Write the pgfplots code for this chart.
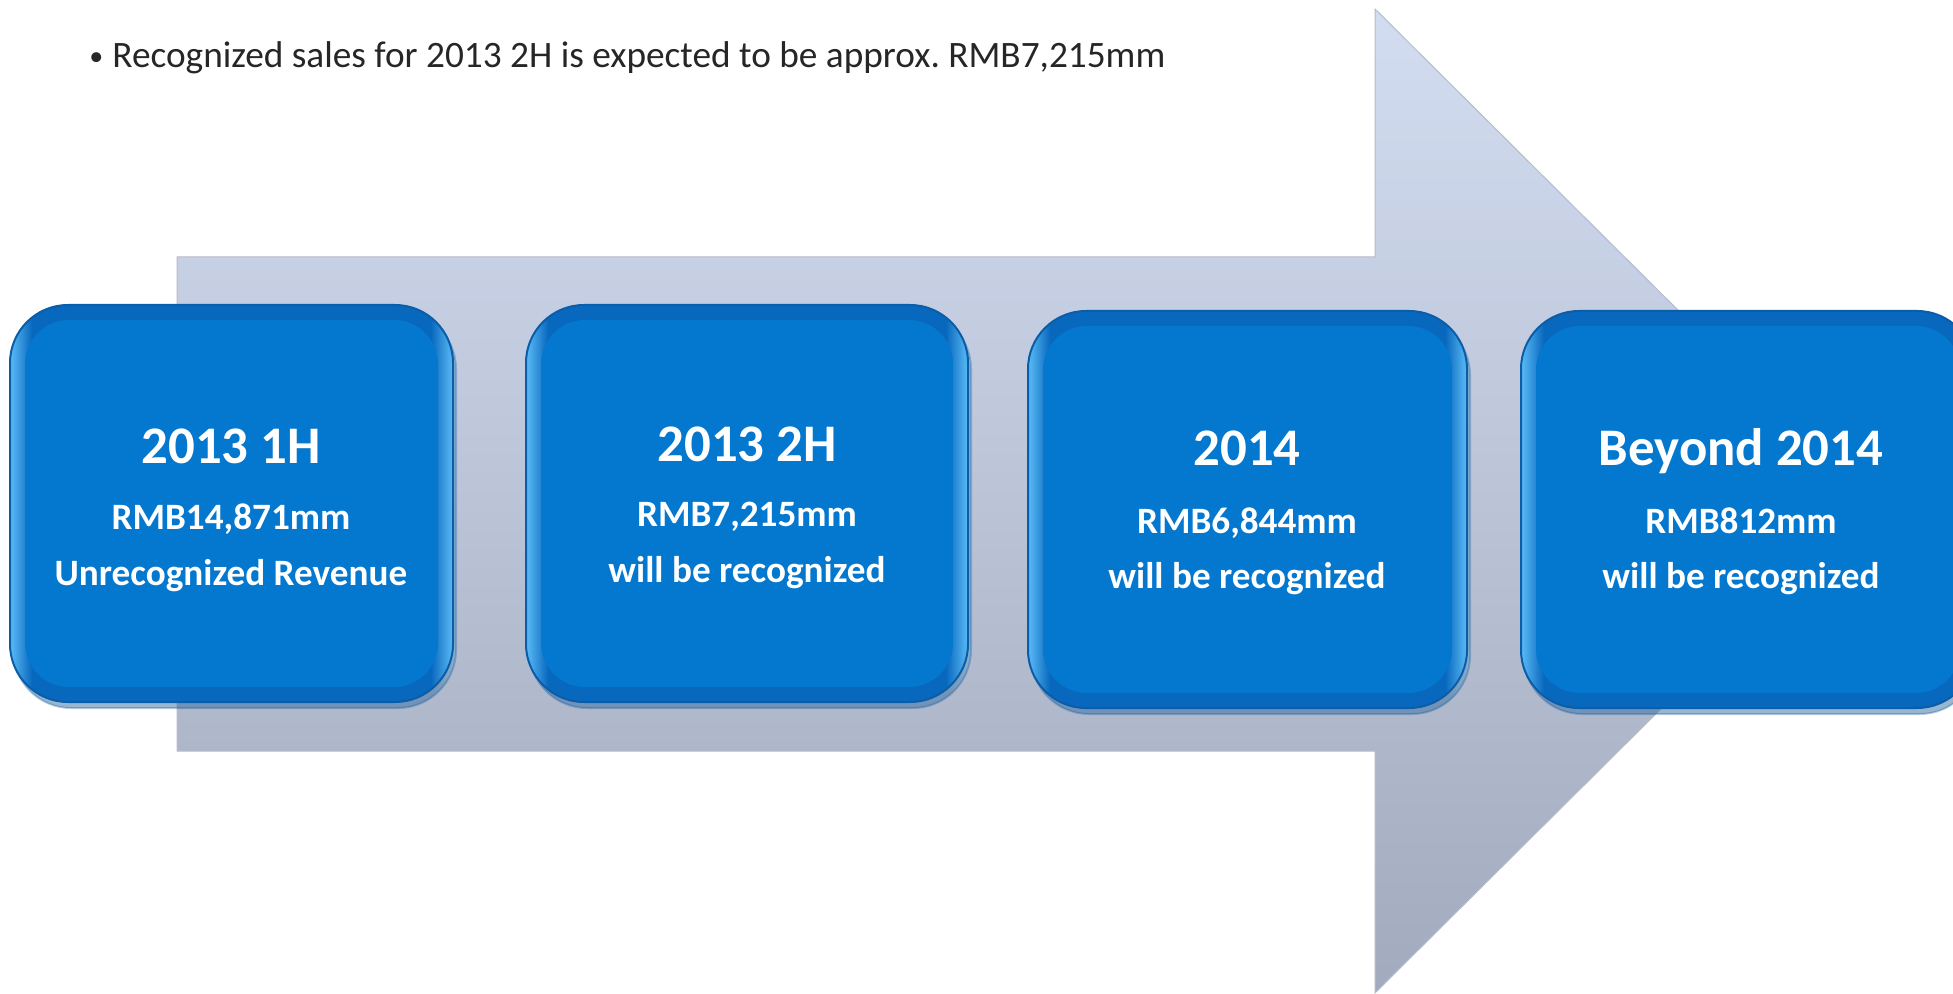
\documentclass[border=0pt]{standalone}
\usepackage{fontspec}
\setmainfont{Carlito}
\usepackage{pgfplots}
\pgfplotsset{compat=1.18}
\usetikzlibrary{shadows}

\definecolor{arrowtop}{HTML}{D3DDF1}
\definecolor{arrowbot}{HTML}{A2AABD}
\definecolor{arrowedge}{HTML}{B4BCCC}
\definecolor{boxmain}{HTML}{0477CF}
\definecolor{boxdark}{HTML}{0868BE}
\definecolor{boxrim}{HTML}{0B5DA8}
\definecolor{boxlight}{HTML}{5CBCF6}
\definecolor{bullettext}{HTML}{262626}

% light only at the far left and right of the rim
\pgfdeclarehorizontalshading{boxring}{100bp}{
  color(0bp)=(boxlight); color(25bp)=(boxlight); color(27.5bp)=(boxdark);
  color(72.5bp)=(boxdark); color(75bp)=(boxlight); color(100bp)=(boxlight)}

\tikzset{
  outerbox/.style={draw=boxrim, line width=1pt, rounded corners=29pt,
    shading=boxring,
    drop shadow={opacity=0.3, shadow xshift=1.5pt, shadow yshift=-3pt}},
  innerbox/.style={draw=none, fill=boxmain, rounded corners=22pt},
  title/.style={anchor=base, text=white, font=\bfseries\fontsize{26.4}{30}\selectfont},
  sub/.style={anchor=base, text=white, font=\bfseries\fontsize{18.6}{21}\selectfont}
}

\begin{document}
\begin{tikzpicture}
\begin{axis}[
  scale only axis, width=976.5pt, height=497pt,
  xmin=0, xmax=1953, ymin=0, ymax=994, y dir=reverse,
  hide axis, clip=true
]
\coordinate (tl) at (axis cs:0,0);
\coordinate (br) at (axis cs:1953,994);

% big arrow behind the boxes
\addplot[draw=arrowedge, line width=0.5pt, top color=arrowtop, bottom color=arrowbot]
  coordinates {(177,257)(1375,257)(1375,9)(1870,501)(1375,993)(1375,751)(177,751)} -- cycle;

% box 1
\addplot[outerbox] coordinates {(231,305)(453,305)(453,702)(10,702)(10,305)(231,305)};
\addplot[innerbox] coordinates {(231,320)(438,320)(438,687)(25,687)(25,320)(231,320)};
% box 2
\addplot[outerbox] coordinates {(747,305)(968,305)(968,702)(526,702)(526,305)(747,305)};
\addplot[innerbox] coordinates {(747,320)(953,320)(953,687)(541,687)(541,320)(747,320)};
% box 3
\addplot[outerbox] coordinates {(1247,311)(1467,311)(1467,708)(1028,708)(1028,311)(1247,311)};
\addplot[innerbox] coordinates {(1247,326)(1452,326)(1452,693)(1043,693)(1043,326)(1247,326)};
% box 4 (runs off the right edge)
\addplot[outerbox] coordinates {(1741,311)(1975,311)(1975,708)(1521,708)(1521,311)(1741,311)};
\addplot[innerbox] coordinates {(1741,326)(1960,326)(1960,693)(1536,693)(1536,326)(1741,326)};

\node[title] at (axis cs:231,463) {2013 1H};
\node[sub]   at (axis cs:231,529) {RMB14,871mm};
\node[sub]   at (axis cs:231,585) {Unrecognized Revenue};

\node[title] at (axis cs:747,461) {2013 2H};
\node[sub]   at (axis cs:747,526) {RMB7,215mm};
\node[sub]   at (axis cs:747,582) {will be recognized};

\node[title] at (axis cs:1247,466) {2014};
\node[sub]   at (axis cs:1247,533) {RMB6,844mm};
\node[sub]   at (axis cs:1247,588) {will be recognized};

\node[title] at (axis cs:1741,466) {Beyond 2014};
\node[sub]   at (axis cs:1741,533) {RMB812mm};
\node[sub]   at (axis cs:1741,588) {will be recognized};

\node[anchor=base west, text=bullettext, font=\fontsize{14}{16}\selectfont, inner sep=0pt]
  at (axis cs:89,66) {•};
\node[anchor=base west, text=bullettext, font=\fontsize{18.65}{22}\selectfont, inner sep=0pt]
  at (axis cs:112,68) {Recognized sales for 2013 2H is expected to be approx.\ RMB7,215mm};
\end{axis}
\pgfresetboundingbox
\useasboundingbox (tl) rectangle (br);
\end{tikzpicture}
\end{document}
